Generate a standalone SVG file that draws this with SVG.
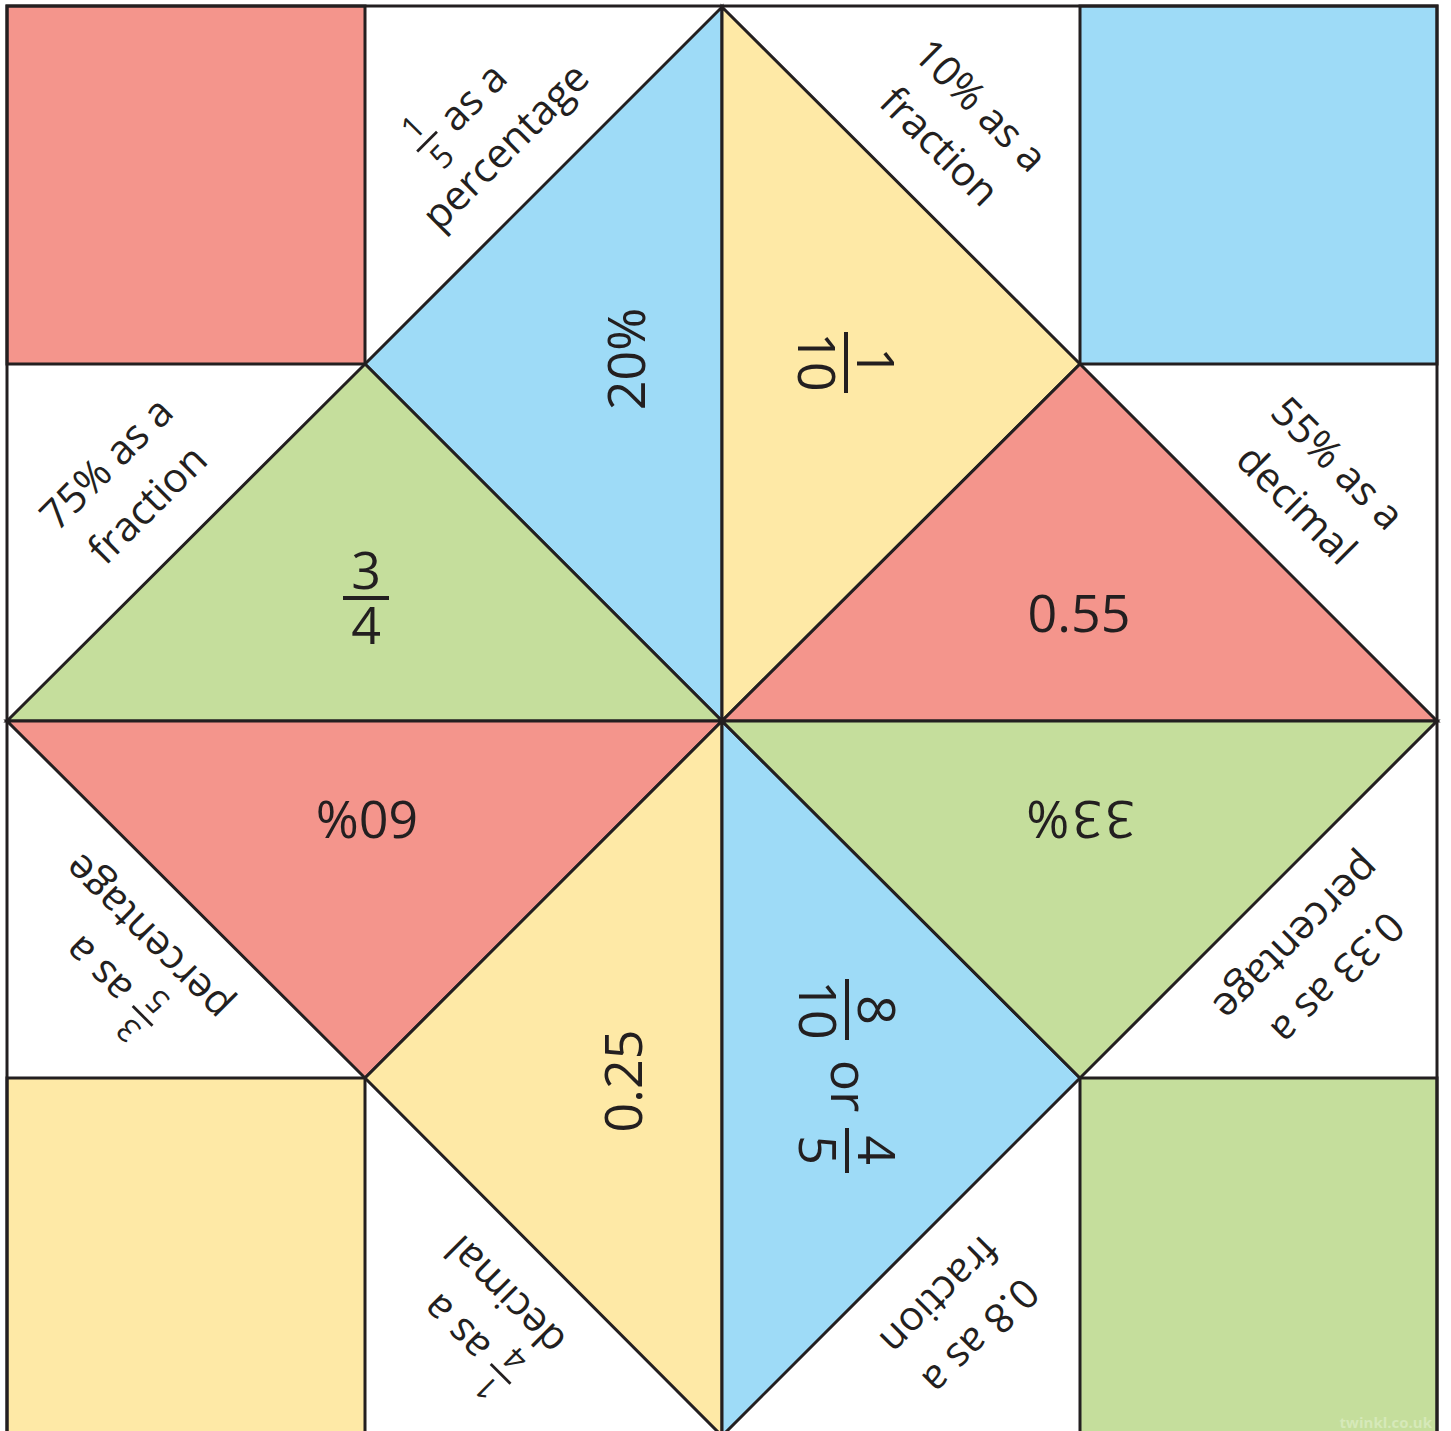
<svg xmlns="http://www.w3.org/2000/svg" width="1451" height="1431" viewBox="0 0 1451 1431">
<style>
.ln{stroke:#231f20;stroke-width:3;stroke-linejoin:miter;fill:none}
.sh{stroke:#231f20;stroke-width:3;stroke-linejoin:miter}
.red{fill:#f4958c}.blue{fill:#9edbf7}.yel{fill:#fee9a6}.grn{fill:#c5de9c}
.big{font-family:"Open Sans","Liberation Sans",sans-serif;font-size:52px;fill:#231f20;text-anchor:middle}
.lab{font-family:"Open Sans","Liberation Sans",sans-serif;font-size:41px;fill:#231f20;text-anchor:middle}
.sm{font-family:"Open Sans","Liberation Sans",sans-serif;font-size:32px;fill:#231f20;text-anchor:middle}
.bar{stroke:#231f20;stroke-width:4;fill:none}
.sbar{stroke:#231f20;stroke-width:2.8;fill:none}
</style>
<rect x="0" y="0" width="1451" height="1431" fill="#ffffff"/>

<g id="corner-squares">
<rect id="sq-tl" class="sh red" x="7" y="6" width="358" height="358"/>
<rect id="sq-tr" class="sh blue" x="1080" y="6" width="357" height="358"/>
<rect id="sq-bl" class="sh yel" x="7" y="1078" width="358" height="358"/>
<rect id="sq-br" class="sh grn" x="1080" y="1078" width="357" height="358"/>
</g>

<g id="connectors">
<rect class="ln" x="7" y="6" width="1430" height="1430"/>
</g>

<g id="tri-blue-top">
<polygon class="sh blue" points="365,364 722,7 722,721"/>
<text class="big" transform="translate(645,359) rotate(-90)" x="0" y="0">20%</text>
</g>
<g id="tri-yel-top">
<polygon class="sh yel" points="722,7 1080,364 722,721"/>
<g transform="translate(846,362) rotate(90)">
<text class="big"><tspan x="0" y="-11">1</tspan><tspan x="0" y="48">10</tspan></text>
<line class="bar" x1="-30" y1="0" x2="31" y2="0"/>
</g>
</g>
<g id="tri-red-right">
<polygon class="sh red" points="1080,364 1437,721 722,721"/>
<text class="big" x="1079" y="632">0.55</text>
</g>
<g id="tri-grn-left">
<polygon class="sh grn" points="7,721 365,364 722,721"/>
<text class="big"><tspan x="366" y="589">3</tspan><tspan x="366" y="644">4</tspan></text>
<line class="bar" x1="343" y1="598" x2="389" y2="598"/>
</g>
<g id="tri-red-left">
<polygon class="sh red" points="7,721 722,721 365,1078"/>
<text class="big" transform="translate(367,801) rotate(180)" x="0" y="0">60%</text>
</g>
<g id="tri-yel-bottom">
<polygon class="sh yel" points="365,1078 722,721 722,1436"/>
<text class="big" transform="translate(642,1081) rotate(-90)" x="0" y="0">0.25</text>
</g>
<g id="tri-blue-bottom">
<polygon class="sh blue" points="722,721 1080,1078 722,1436"/>
<g transform="translate(847,1075) rotate(90)">
<text class="big"><tspan x="-65" y="-11">8</tspan><tspan x="-65" y="48">10</tspan></text>
<line class="bar" x1="-96" y1="0" x2="-35" y2="0"/>
<text class="big" x="11" y="16">or</text>
<text class="big"><tspan x="75" y="-11">4</tspan><tspan x="75" y="48">5</tspan></text>
<line class="bar" x1="53" y1="0" x2="98" y2="0"/>
</g>
</g>
<g id="tri-grn-right">
<polygon class="sh grn" points="722,721 1437,721 1080,1078"/>
<text class="big" transform="translate(1079,801) rotate(180)" x="0" y="0" letter-spacing="3">33%</text>
</g>

<g id="label-1">
<g transform="translate(490,131) rotate(-45)">
<text class="sm"><tspan x="-52" y="-46">1</tspan><tspan x="-52" y="-5">5</tspan></text>
<line class="sbar" x1="-66" y1="-37" x2="-38" y2="-37"/>
<text class="lab" style="text-anchor:start" x="-26" y="-22">as a</text>
<text class="lab" x="0" y="36">percentage</text>
</g>
</g>
<g id="label-2">
<g transform="translate(955,131) rotate(45)">
<text class="lab" x="0" y="-22">10% as a</text>
<text class="lab" x="0" y="36">fraction</text>
</g>
</g>
<g id="label-3">
<g transform="translate(132,489) rotate(-45)">
<text class="lab" x="0" y="-22">75% as a</text>
<text class="lab" x="0" y="36">fraction</text>
</g>
</g>
<g id="label-4">
<g transform="translate(1312,489) rotate(45)">
<text class="lab" x="0" y="-22">55% as a</text>
<text class="lab" x="0" y="36">decimal</text>
</g>
</g>
<g id="label-5">
<g transform="translate(132,953) rotate(225)">
<text class="sm"><tspan x="-52" y="-46">3</tspan><tspan x="-52" y="-5">5</tspan></text>
<line class="sbar" x1="-66" y1="-37" x2="-38" y2="-37"/>
<text class="lab" style="text-anchor:start" x="-26" y="-22">as a</text>
<text class="lab" x="0" y="36">percentage</text>
</g>
</g>
<g id="label-6">
<g transform="translate(1312,953) rotate(135)">
<text class="lab" x="0" y="-22">0.33 as a</text>
<text class="lab" x="0" y="36">percentage</text>
</g>
</g>
<g id="label-7">
<g transform="translate(490,1311) rotate(225)">
<text class="sm"><tspan x="-52" y="-46">1</tspan><tspan x="-52" y="-5">4</tspan></text>
<line class="sbar" x1="-66" y1="-37" x2="-38" y2="-37"/>
<text class="lab" style="text-anchor:start" x="-26" y="-22">as a</text>
<text class="lab" x="0" y="36">decimal</text>
</g>
</g>
<g id="label-8">
<g transform="translate(955,1311) rotate(135)">
<text class="lab" x="0" y="-22">0.8 as a</text>
<text class="lab" x="0" y="36">fraction</text>
</g>
</g>

<text id="watermark" x="1432" y="1428" font-family="Open Sans, Liberation Sans, sans-serif" font-size="15" font-weight="bold" fill="#d6e9b9" text-anchor="end">twinkl.co.uk</text>
</svg>
